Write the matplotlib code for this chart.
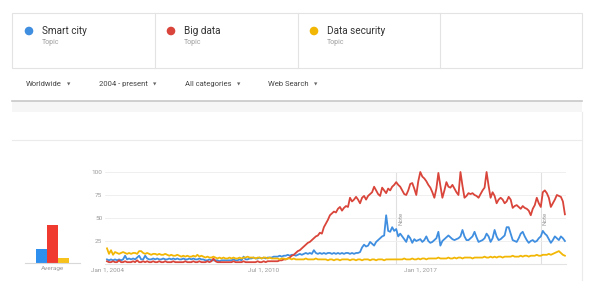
import matplotlib
matplotlib.use("Agg")
import matplotlib.pyplot as plt
from matplotlib.patches import Rectangle, Circle
import numpy as np

plt.rcParams['font.family'] = ['Roboto', 'DejaVu Sans']

# ---------------- data ----------------
series_names = ["Smart city", "Big data", "Data security"]
series_sub = ["Topic", "Topic", "Topic"]
colors = ["#3F8EE0", "#D9453A", "#F2B705"]
bar_colors = ["#2F8FEF", "#F03A30", "#F8C21C"]
start_year = 2004

big_data = [
    3, 2, 2, 3, 2, 2, 4, 2, 2, 3, 2, 2,          # 2004
    2, 3, 2, 4, 2, 2, 3, 2, 3, 2, 2, 3,          # 2005
    2, 2, 3, 2, 2, 3, 2, 2, 2, 3, 2, 2,          # 2006
    2, 2, 2, 3, 2, 2, 2, 3, 2, 2, 3, 2,          # 2007
    2, 2, 3, 2, 3, 6, 3, 2, 2, 2, 2, 2,          # 2008
    2, 2, 2, 3, 2, 2, 2, 2, 3, 2, 2, 2,          # 2009
    2, 2, 2, 3, 2, 2, 3, 2, 3, 3, 3, 3,          # 2010
    3, 3, 4, 4, 5, 5, 6, 7, 9, 10, 12, 14,       # 2011
    15, 17, 19, 21, 23, 24, 26, 28, 30, 31, 34, 33,   # 2012
    40, 44, 48, 53, 55, 57, 56, 60, 62, 58, 61, 63,   # 2013
    62, 72, 68, 70, 73, 70, 66, 72, 74, 70, 74, 76,   # 2014
    78, 84, 80, 76, 74, 83, 80, 77, 82, 80, 84, 86,   # 2015
    89, 86, 84, 80, 76, 75, 80, 87, 88, 82, 75, 90,   # 2016
    100, 95, 93, 90, 86, 83, 78, 72, 82, 99, 85, 72,  # 2017
    80, 89, 84, 83, 86, 82, 78, 75, 100, 85, 72, 74,  # 2018
    77, 76, 77, 75, 74, 72, 76, 80, 83, 100, 85, 72,  # 2019
    78, 74, 66, 70, 72, 70, 66, 68, 73, 70, 61, 63,   # 2020
    64, 62, 60, 63, 61, 60, 58, 53, 60, 64, 72, 66,   # 2021
    62, 78, 80, 77, 72, 62, 66, 70, 75, 74, 73, 68,   # 2022
    54,                                               # 2023
]

smart_city = [
    5, 4, 5, 4, 5, 4, 5, 4, 5, 9, 5, 6,          # 2004
    5, 6, 5, 7, 9, 5, 5, 9, 6, 5, 5, 6,          # 2005
    5, 6, 5, 5, 6, 5, 5, 6, 5, 6, 5, 6,          # 2006
    5, 5, 6, 5, 5, 6, 5, 6, 5, 5, 6, 5,          # 2007
    5, 4, 4, 5, 4, 4, 4, 4, 3, 4, 4, 4,          # 2008
    4, 4, 4, 5, 4, 4, 5, 4, 8, 5, 5, 6,          # 2009
    6, 7, 6, 6, 7, 6, 7, 6, 7, 7, 7, 8,          # 2010
    8, 8, 9, 8, 9, 9, 10, 9, 10, 10, 9, 10,      # 2011
    11, 10, 11, 12, 11, 12, 11, 15, 12, 11, 12, 11,   # 2012
    12, 11, 12, 12, 11, 12, 11, 12, 11, 12, 11, 12,   # 2013
    12, 11, 12, 11, 12, 12, 13, 18, 21, 19, 20, 24,   # 2014
    22, 20, 24, 26, 28, 30, 31, 53, 36, 35, 40, 36,   # 2015
    38, 30, 33, 30, 27, 24, 31, 28, 23, 27, 25, 26,   # 2016
    27, 24, 26, 30, 25, 23, 24, 26, 28, 35, 20, 25,   # 2017
    27, 29, 31, 29, 27, 26, 27, 28, 30, 37, 30, 26,   # 2018
    26, 28, 30, 35, 29, 24, 25, 26, 28, 33, 30, 24,   # 2019
    28, 37, 30, 26, 27, 29, 31, 40, 40, 33, 26, 25,   # 2020
    24, 28, 33, 35, 30, 26, 23, 25, 26, 24, 25, 28,   # 2021
    30, 36, 33, 31, 27, 23, 26, 30, 28, 26, 30, 28,   # 2022
    25,                                               # 2023
]

data_security = [
    17, 11, 15, 10, 13, 12, 11, 12, 13, 12, 11, 12,   # 2004
    11, 12, 12, 11, 14, 14, 12, 11, 12, 11, 10, 11,   # 2005
    11, 10, 11, 10, 10, 11, 10, 9, 10, 9, 9, 10,      # 2006
    9, 8, 9, 8, 9, 8, 8, 9, 8, 10, 8, 9,              # 2007
    8, 7, 8, 7, 7, 8, 7, 6, 7, 6, 7, 6,               # 2008
    6, 7, 6, 7, 6, 6, 7, 6, 7, 7, 8, 7,               # 2009
    7, 7, 6, 7, 7, 6, 7, 7, 6, 7, 6, 6,               # 2010
    6, 6, 5, 6, 6, 5, 6, 6, 5, 6, 5, 5,               # 2011
    5, 5, 5, 6, 5, 5, 5, 5, 6, 5, 5, 5,               # 2012
    5, 5, 4, 5, 5, 4, 5, 5, 4, 5, 5, 5,               # 2013
    5, 4, 5, 5, 4, 5, 5, 4, 5, 5, 5, 4,               # 2014
    5, 5, 4, 5, 5, 5, 4, 5, 5, 5, 5, 5,               # 2015
    5, 5, 5, 5, 6, 5, 5, 5, 6, 5, 5, 6,               # 2016
    5, 6, 6, 5, 6, 6, 6, 6, 6, 7, 6, 6,               # 2017
    6, 6, 7, 6, 6, 7, 6, 7, 7, 6, 7, 7,               # 2018
    7, 7, 6, 7, 7, 7, 7, 7, 8, 7, 7, 8,               # 2019
    7, 8, 7, 8, 8, 7, 8, 8, 8, 8, 9, 8,               # 2020
    8, 8, 9, 8, 9, 9, 8, 9, 9, 9, 10, 9,              # 2021
    9, 10, 10, 10, 11, 10, 11, 12, 13, 14, 12, 10,    # 2022
    9,                                                # 2023
]

averages = [15, 42, 6]
avg_label = "Average"

y_ticks = [25, 50, 75, 100]
x_tick_pos = [2004.0, 2010.5, 2017.0]
x_tick_labels = ["Jan 1, 2004", "Jul 1, 2010", "Jan 1, 2017"]
note_years = [2016.0, 2022.0]
note_label = "Note"

filters = ["Worldwide", "2004 - present", "All categories", "Web Search"]

# ---------------- figure ----------------
W, H = 601, 299
fig = plt.figure(figsize=(W / 100, H / 100), dpi=100)
fig.patch.set_facecolor("white")

# background overlay in pixel coordinates
bg = fig.add_axes([0, 0, 1, 1], zorder=0)
bg.set_xlim(0, W)
bg.set_ylim(H, 0)
bg.axis("off")

border = "#E3E3E3"
# header card
bg.add_patch(Rectangle((12, 13), 570, 55, facecolor="white", edgecolor=border, lw=0.8))
for xd in [155, 298, 440]:
    bg.plot([xd, xd], [13, 68], color=border, lw=0.8)

name_x = [42, 184, 327]
for i, name in enumerate(series_names):
    bg.add_patch(Circle((name_x[i] - 13, 31), 3.6, color=colors[i]))
    bg.text(name_x[i], 31, name, fontsize=7.2, color="#333333", va="center", ha="left")
    bg.text(name_x[i], 43, series_sub[i], fontsize=5, color="#9E9E9E", va="center", ha="left")

# filter row
filter_x = [26, 99, 185, 268]
for fx, ft in zip(filter_x, filters):
    t = bg.text(fx, 84, ft, fontsize=5.5, color="#444444", va="center", ha="left")
fig.canvas.draw()
renderer = fig.canvas.get_renderer()
for t in bg.texts[-4:]:
    bb = t.get_window_extent(renderer)
    x_end = bb.x1 / fig.dpi * 100
    bg.text(x_end + 5, 84, "▼", fontsize=3.2, color="#666666", va="center", ha="left",
            family="DejaVu Sans")

# separator and grey band
bg.add_patch(Rectangle((12, 101), 570, 11, facecolor="#F6F6F6", edgecolor="none"))
bg.plot([12, 582], [100.5, 100.5], color="#C8C8C8", lw=1.2)
bg.plot([12, 582], [140, 140], color="#EBEBEB", lw=0.8)
bg.plot([582, 582], [112, 280], color="#EBEBEB", lw=0.8)

# ---------------- main line chart ----------------
px_per_year = 24.1
x0_px = 107.0
left_px, right_px = 105, 566
top_px, bot_px = 172, 264
ax = fig.add_axes([left_px / W, 1 - bot_px / H, (right_px - left_px) / W, (bot_px - top_px) / H],
                  zorder=2)
ax.set_facecolor("none")
ax.set_xlim(start_year + (left_px - x0_px) / px_per_year, start_year + (right_px - x0_px) / px_per_year)
ax.set_ylim(0, 100)

n = len(big_data)
months = np.arange(n)
xs = start_year + months / 12.0

for xv in note_years:
    ax.axvline(xv, color="#E0E0E0", lw=0.8, zorder=1)
    ax.text(xv + 0.08, 50, note_label, rotation=90, fontsize=4.5, color="#9A9A9A",
            ha="left", va="center", zorder=2)

for vals, c in zip([smart_city, big_data, data_security], colors):
    ax.plot(xs, vals, color=c, lw=1.3, zorder=3, clip_on=False, solid_joinstyle="round")

ax.set_yticks(y_ticks)
ax.set_yticklabels([str(v) for v in y_ticks])
ax.set_xticks(x_tick_pos)
ax.set_xticklabels(x_tick_labels)
ax.grid(axis="y", color="#EFEFEF", lw=0.7)
ax.tick_params(axis="both", length=0, labelsize=4.6, labelcolor="#9A9A9A", pad=2)
ax.tick_params(axis="x", pad=2.5)
for s in ["top", "right", "left"]:
    ax.spines[s].set_visible(False)
ax.spines["bottom"].set_color("#E3E3E3")
ax.spines["bottom"].set_linewidth(0.8)

# ---------------- average bars ----------------
bl, br = 25, 80
bbot = 263
bax = fig.add_axes([bl / W, 1 - bbot / H, (br - bl) / W, (bbot - top_px) / H], zorder=2)
bax.set_facecolor("none")
bax.set_xlim(-1.5, 3.5)
bax.set_ylim(0, 100)
bax.bar(range(len(averages)), averages, width=1.0, color=bar_colors)
bax.set_xticks([1])
bax.set_xticklabels([avg_label])
bax.set_yticks([])
bax.tick_params(axis="x", length=0, labelsize=4.6, labelcolor="#9A9A9A", pad=2)
for s in ["top", "right", "left"]:
    bax.spines[s].set_visible(False)
bax.spines["bottom"].set_color("#D8D8D8")
bax.spines["bottom"].set_linewidth(0.8)

fig.savefig("out.png", dpi=100, facecolor="white")
